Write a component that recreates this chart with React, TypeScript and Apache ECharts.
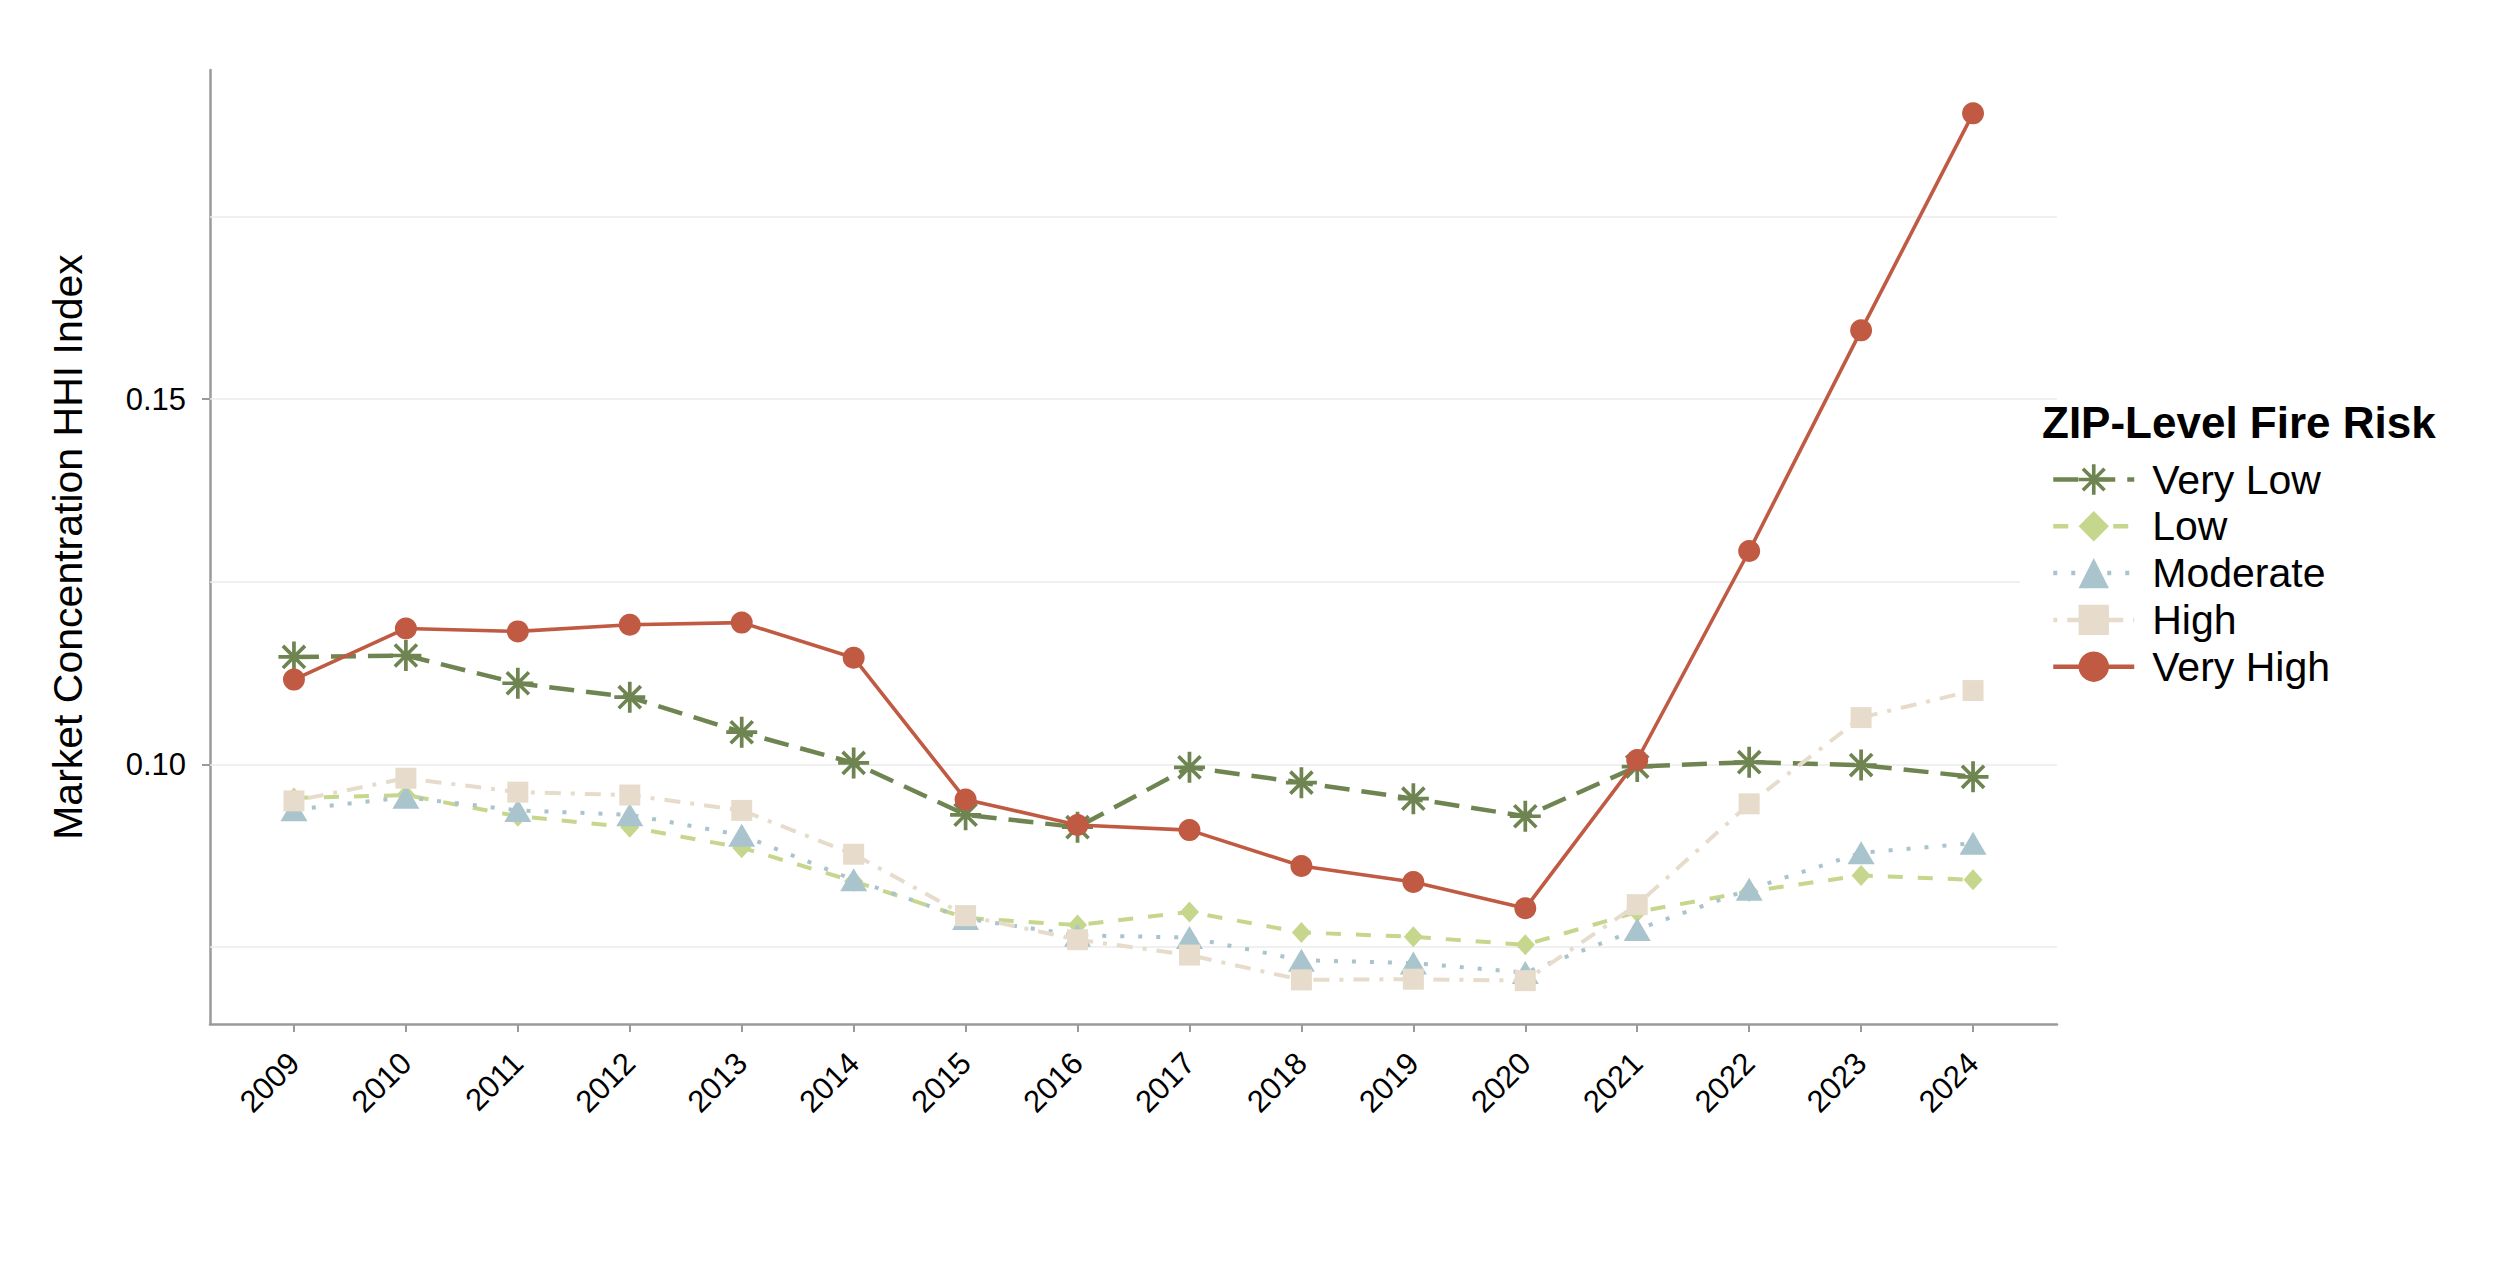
import React, { useEffect, useRef } from "react";
import * as echarts from "echarts";

// ---------- data ----------
const years = [2009, 2010, 2011, 2012, 2013, 2014, 2015, 2016, 2017, 2018, 2019, 2020, 2021, 2022, 2023, 2024];

const veryLow = [0.1147, 0.1149, 0.1111, 0.1092, 0.1044, 0.1002, 0.0931, 0.0914, 0.0996, 0.0975, 0.0953, 0.0929, 0.0997, 0.1003, 0.0999, 0.0983];
const low = [0.0954, 0.0958, 0.0929, 0.0914, 0.0886, 0.0840, 0.0790, 0.0780, 0.0798, 0.0770, 0.0764, 0.0753, 0.0798, 0.0826, 0.0848, 0.0842];
const moderate = [0.0938, 0.0955, 0.0937, 0.0931, 0.0903, 0.0842, 0.0789, 0.0766, 0.0763, 0.0732, 0.0728, 0.0715, 0.0774, 0.0829, 0.0879, 0.0892];
const high = [0.0950, 0.0981, 0.0962, 0.0958, 0.0937, 0.0877, 0.0793, 0.0760, 0.0739, 0.0705, 0.0706, 0.0704, 0.0808, 0.0946, 0.1064, 0.1101];
const veryHigh = [0.1116, 0.1186, 0.1182, 0.1191, 0.1194, 0.1146, 0.0952, 0.0917, 0.0910, 0.0861, 0.0839, 0.0803, 0.1006, 0.1292, 0.1594, 0.1891];

const seriesNames = ["Very Low", "Low", "Moderate", "High", "Very High"];
const yTickValues = [0.1, 0.15];
const yGridValues = [0.075, 0.1, 0.125, 0.15, 0.175];
const legendTitle = "ZIP-Level Fire Risk";
const yAxisTitle = "Market Concentration HHI Index";

// ---------- styles ----------
const FONT = "'Liberation Sans', Arial, Helvetica, sans-serif";
const colors = ["#6F8551", "#C6D68C", "#A9C4CC", "#E7DCCB", "#C05A42"];
const ASTERISK =
  "path://M44 0L56 0L56 100L44 100Z M0 44L100 44L100 56L0 56Z " +
  "M18.6 10.2L89.8 81.4L81.4 89.8L10.2 18.6Z M89.8 18.6L18.6 89.8L10.2 81.4L81.4 10.2Z";
const symbols = [ASTERISK, "diamond", "triangle", "rect", "circle"];
const symbolSizes: any[] = [31, [19, 21], [27, 23], 21, 22];
const dashes: any[] = [[25, 12], [15, 15], [4, 14], [4, 10, 16, 10], "solid"];
const widths = [4.5, 4, 4, 4, 3.6];

const seriesValues = [veryLow, low, moderate, high, veryHigh];

// ggplot-like 5% expansion
const allVals = seriesValues.flat();
const vMin = Math.min(...allVals);
const vMax = Math.max(...allVals);
const yPad = (vMax - vMin) * 0.05;
const yMin = vMin - yPad;
const yMax = vMax + yPad;
const xPad = (years[years.length - 1] - years[0]) * 0.05;
const xMin = years[0] - xPad;
const xMax = years[years.length - 1] + xPad;

const AXIS_COLOR = "#9A9A9A";

function buildOption(): any {
  const lineSeries: any[] = seriesNames.map((name, i) => ({
    name,
    type: "line",
    z: 3 + i,
    data: years.map((y, j) => [y, seriesValues[i][j]]),
    symbol: symbols[i],
    symbolSize: symbolSizes[i],
    showSymbol: true,
    showAllSymbol: true,
    lineStyle: { color: colors[i], width: widths[i], type: dashes[i] },
    itemStyle: { color: colors[i], borderWidth: 0 },
    emphasis: { disabled: true },
    silent: true,
  }));

  // panel grid lines (major + minor), drawn beneath everything
  lineSeries[0].markLine = {
    silent: true,
    z: 1,
    precision: 4,
    symbol: "none",
    label: { show: false },
    lineStyle: { color: "#EBEBEB", width: 1.6, type: "solid" },
    emphasis: { disabled: true },
    data: yGridValues.map((v) => ({ yAxis: v })),
  };

  return {
    animation: false,
    backgroundColor: "#ffffff",
    textStyle: { fontFamily: FONT },
    title: {
      text: legendTitle,
      left: 2037,
      top: 395,
      textStyle: { fontFamily: FONT, fontSize: 44, fontWeight: "bold", color: "#000000" },
    },
    legend: {
      data: seriesNames,
      orient: "vertical",
      left: 2020,
      top: 452,
      padding: [7, 10, 7, 31],
      backgroundColor: "#ffffff",
      itemWidth: 81,
      itemHeight: 38,
      itemGap: 5.8,
      selectedMode: false,
      lineStyle: { width: 4.5 },
      textStyle: { fontFamily: FONT, fontSize: 41, color: "#000000", padding: [0, 0, 0, 13] },
    },
    grid: { left: 210, right: 443, top: 70, bottom: 238, containLabel: false },
    xAxis: {
      type: "value",
      min: xMin,
      max: xMax,
      axisLine: { show: true, onZero: false, lineStyle: { color: AXIS_COLOR, width: 2.5 } },
      axisTick: { show: true, customValues: years, length: 8, lineStyle: { color: AXIS_COLOR, width: 2 } },
      axisLabel: {
        customValues: years,
        rotate: 45,
        margin: 34,
        fontSize: 31,
        color: "#000000",
        fontFamily: FONT,
        formatter: (v: number) => String(Math.round(v)),
      },
      splitLine: { show: false },
    },
    yAxis: {
      type: "value",
      min: yMin,
      max: yMax,
      name: yAxisTitle,
      nameLocation: "middle",
      nameGap: 122,
      nameTextStyle: { fontFamily: FONT, fontSize: 41, color: "#000000" },
      axisLine: { show: true, onZero: false, lineStyle: { color: AXIS_COLOR, width: 2.5 } },
      axisTick: { show: true, customValues: yTickValues, length: 8, lineStyle: { color: AXIS_COLOR, width: 2 } },
      axisLabel: {
        customValues: yTickValues,
        margin: 24,
        fontSize: 31,
        color: "#000000",
        fontFamily: FONT,
        formatter: (v: number) => v.toFixed(2),
      },
      splitLine: { show: false },
    },
    series: lineSeries,
  };
}

export default function App() {
  const ref = useRef<HTMLDivElement>(null);
  useEffect(() => {
    if (!ref.current) return;
    const chart = echarts.init(ref.current, null, { renderer: "svg" });
    chart.setOption(buildOption());
    return () => {
      chart.dispose();
    };
  }, []);
  return (
    <div
      ref={ref}
      style={{ position: "absolute", left: 0, top: 0, width: 2500, height: 1262, background: "#ffffff" }}
    />
  );
}
